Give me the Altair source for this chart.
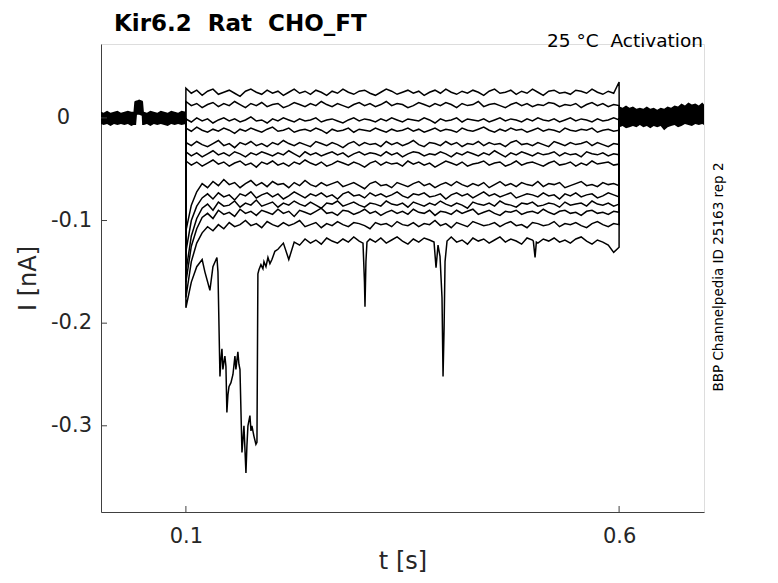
import altair as alt
import numpy as np
import pandas as pd

# ---------------- data (currents in pA, time in s) ----------------
STEP_START = 0.1
STEP_END = 0.6

T1 = [29,
      24,27,22,26,28,23,25,27,24,21,26,28,25,23,27,24,
      26,22,25,28,24,26,23,27,25,22,26,24,28,25,23,26,
      27,24,22,25,28,26,23,25,27,24,26,22,25,27,24,28,
      25,23,26,24,27,25,22,26,28,24,25,27,23,26,24,28,
      25,22,26,27,24,25,23,27,26,24,28,25,23,26,24,35]
T2 = [16,
      12,14,10,13,15,11,14,12,16,13,10,14,12,15,11,13,
      14,10,12,15,13,11,14,12,16,13,11,14,12,10,13,15,
      12,14,11,13,16,12,14,13,10,12,15,13,11,14,12,15,
      13,10,14,12,13,16,11,13,14,12,10,13,15,12,14,11,
      13,12,15,14,11,13,12,14,10,13,15,12,14,11,13,12]
T3 = [-1,
      -4,0,-3,-1,-5,-2,0,-3,-1,-4,-2,1,-3,-2,-5,-1,
      -3,0,-2,-4,-1,-3,-2,0,-4,-2,-1,-3,-5,-2,0,-3,
      -1,-2,-4,-1,-3,0,-2,-4,-1,-2,-3,0,-2,-5,-1,-3,
      -2,0,-4,-1,-2,-3,-1,-4,-2,0,-3,-1,-2,-4,-1,-3,
      0,-2,-3,-1,-4,-2,0,-3,-1,-2,-4,-1,-3,-2,0,-2]
T4 = [-10,
      -13,-9,-12,-14,-11,-13,-10,-12,-15,-11,-13,-10,-12,-14,-11,-9,
      -13,-12,-10,-14,-12,-11,-13,-10,-12,-15,-11,-13,-12,-10,-14,-11,
      -12,-13,-10,-12,-14,-11,-13,-12,-10,-13,-11,-14,-12,-10,-13,-11,
      -12,-14,-10,-12,-13,-11,-9,-12,-14,-11,-13,-10,-12,-11,-14,-12,
      -10,-13,-11,-12,-14,-10,-12,-13,-11,-12,-10,-14,-12,-11,-13,-12]
T5 = [-24,
      -27,-23,-26,-28,-25,-22,-27,-25,-29,-24,-26,-23,-27,-25,-28,-24,
      -26,-22,-25,-27,-24,-26,-28,-23,-25,-27,-24,-26,-29,-25,-23,-27,
      -24,-26,-25,-28,-23,-26,-24,-27,-25,-22,-26,-28,-24,-25,-27,-23,
      -26,-24,-28,-25,-26,-23,-27,-24,-26,-25,-28,-24,-22,-26,-25,-27,
      -24,-26,-28,-23,-25,-27,-24,-26,-25,-23,-27,-24,-26,-28,-25,-26]
T6 = [-33,
      -37,-34,-38,-35,-32,-36,-34,-37,-33,-35,-38,-34,-36,-33,-35,-37,
      -34,-36,-32,-35,-38,-33,-36,-34,-37,-35,-33,-36,-34,-38,-35,-33,
      -36,-34,-35,-37,-33,-36,-34,-38,-35,-33,-34,-37,-35,-36,-33,-35,
      -38,-34,-36,-33,-35,-37,-34,-36,-32,-35,-38,-34,-36,-33,-35,-37,
      -34,-36,-35,-33,-37,-34,-36,-35,-38,-33,-35,-36,-34,-37,-35,-36]
T7 = [-42,
      -46,-43,-47,-44,-41,-45,-43,-47,-44,-42,-46,-44,-48,-43,-45,-42,
      -46,-44,-47,-43,-45,-41,-44,-46,-43,-47,-45,-42,-44,-46,-43,-45,
      -48,-44,-42,-46,-43,-45,-44,-47,-42,-45,-43,-46,-44,-48,-45,-42,
      -44,-46,-43,-47,-45,-44,-42,-46,-44,-43,-47,-45,-42,-46,-44,-43,
      -45,-47,-44,-42,-46,-45,-43,-47,-44,-46,-42,-45,-44,-43,-46,-45]
T8 = [-110,
      -85,-72,-64,-68,-62,-66,-60,-65,-63,-68,-64,-61,-66,-63,-67,-62,
      -65,-64,-68,-63,-66,-61,-65,-67,-63,-66,-64,-62,-67,-65,-63,-66,
      -69,-64,-62,-66,-65,-68,-63,-65,-67,-64,-62,-66,-64,-68,-65,-63,
      -66,-62,-65,-67,-64,-66,-63,-68,-65,-62,-66,-64,-67,-63,-65,-66,
      -62,-67,-64,-65,-63,-68,-66,-64,-62,-66,-65,-67,-63,-65,-64,-66]
T9 = [-130,
      -100,-86,-78,-74,-79,-73,-77,-75,-80,-74,-76,-72,-78,-75,-73,-77,
      -74,-79,-76,-72,-75,-78,-74,-76,-73,-77,-75,-79,-74,-72,-76,-75,
      -78,-73,-76,-74,-77,-75,-72,-76,-78,-74,-75,-73,-77,-76,-74,-79,
      -75,-73,-76,-74,-78,-75,-72,-76,-74,-77,-75,-73,-78,-76,-74,-75,
      -77,-73,-76,-75,-79,-74,-76,-73,-77,-75,-74,-78,-76,-73,-75,-77]
T10 = [-150,
       -115,-98,-88,-84,-90,-82,-86,-85,-81,-87,-83,-85,-80,-86,-84,-82,
       -87,-83,-85,-81,-84,-86,-82,-85,-88,-83,-84,-81,-86,-84,-82,-85,
       -87,-83,-84,-86,-81,-84,-85,-83,-87,-82,-84,-86,-83,-85,-81,-84,
       -86,-83,-85,-88,-82,-84,-85,-83,-86,-81,-84,-85,-87,-83,-84,-82,
       -86,-85,-83,-84,-87,-82,-85,-84,-83,-86,-81,-84,-85,-83,-86,-84]
T11 = [-160,
       -125,-108,-97,-93,-98,-90,-94,-92,-96,-89,-93,-91,-95,-90,-92,-94,
       -89,-93,-91,-96,-90,-92,-94,-91,-88,-93,-92,-95,-90,-91,-94,-92,
       -89,-93,-91,-95,-92,-90,-93,-91,-94,-89,-92,-93,-90,-95,-91,-92,
       -94,-90,-93,-91,-89,-94,-92,-90,-93,-95,-91,-92,-90,-94,-92,-91,
       -93,-89,-92,-94,-91,-90,-93,-92,-95,-91,-90,-93,-92,-94,-91,-92]
T12 = [-175,
       -140,-122,-112,-106,-110,-104,-108,-102,-106,-104,-100,-105,-103,-107,-101,-104,
       -106,-102,-105,-103,-100,-106,-104,-102,-107,-103,-105,-101,-104,-106,-102,-103,
       -105,-108,-102,-104,-103,-106,-101,-104,-105,-102,-106,-103,-104,-100,-105,-103,
       -107,-102,-104,-106,-101,-103,-105,-104,-102,-106,-103,-101,-105,-104,-107,-102,
       -103,-105,-104,-101,-106,-103,-104,-102,-105,-107,-103,-101,-104,-106,-103,-104]
T13 = [-185,
       -160,-145,-138,-140,-150,-145,-140,-150,-145,-140,-150,-145,-140,-150,-145,-140,
       -128,-122,-138,-121,-124,-118,-122,-119,-123,-117,-120,-122,-118,-121,-116,-120,
       -124,-118,-121,-117,-122,-119,-116,-120,-123,-118,-121,-117,-119,-122,-118,-120,
       -116,-121,-119,-123,-117,-120,-118,-122,-119,-116,-121,-118,-120,-123,-117,-119,
       -122,-118,-120,-117,-121,-119,-122,-118,-116,-120,-123,-119,-121,-124,-131,-126]

TRACES = {"T1": T1, "T2": T2, "T3": T3, "T4": T4, "T5": T5, "T6": T6, "T7": T7,
          "T8": T8, "T9": T9, "T10": T10, "T11": T11, "T12": T12, "T13": T13}

# fast events (finely sampled) on the lowest trace
DIP1_T = [0.1219,0.1277,0.1312,0.1358,0.1370,0.1393,0.1404,0.1416,0.1427,0.1439,0.1450,
          0.1462,0.1473,0.1485,0.1497,0.1520,0.1543,0.1566,0.1577,0.1589,0.1600,0.1612,
          0.1624,0.1647,0.1670,0.1693,0.1704,0.1716,0.1739,0.1751,0.1762,0.1785,0.1808,
          0.1820,0.1831,0.1843,0.1866,0.1889,0.1901,0.1924,0.1947,0.1970,0.1993,0.2027]
DIP1_V = [-150,-168,-145,-136,-150,-252,-236,-225,-245,-238,-232,
          -242,-287,-270,-262,-258,-250,-232,-245,-236,-228,-240,
          -245,-326,-300,-346,-320,-300,-290,-305,-300,-310,-318,
          -316,-152,-148,-143,-147,-140,-145,-136,-142,-138,-130]
SPIKE2_T = [0.3044,0.3061,0.3067,0.3078,0.3090]
SPIKE2_V = [-122,-160,-184,-140,-121]
SPIKE3_T = [0.3864,0.3887,0.3910,0.3933,0.3956,0.3968,0.3980,0.3991,0.4014]
SPIKE3_V = [-121,-146,-124,-135,-175,-252,-205,-140,-120]
SPIKE4_T = [0.5010,0.5030,0.5045]
SPIKE4_V = [-120,-136,-121]
EVENTS = [("T13", DIP1_T, DIP1_V), ("T13", SPIKE2_T, SPIKE2_V),
          ("T13", SPIKE3_T, SPIKE3_V), ("T13", SPIKE4_T, SPIKE4_V)]

# baseline noise envelopes before / after the step
PRE_T = [0.002,0.005,0.009,0.013,0.017,0.021,0.025,0.029,0.033,0.037,0.0395,0.0405,
         0.0425,0.0435,0.046,0.049,0.0495,0.0505,0.0515,0.055,0.059,0.063,0.067,0.071,
         0.075,0.079,0.083,0.087,0.091,0.095,0.0999]
PRE_HI = [6,5,7,5,6,7,5,6,7,6,6,16,17,17,18,17,17,16,6,5,7,6,5,7,6,5,7,6,5,7,6]
PRE_LO = [-6,-7,-6,-8,-6,-7,-6,-7,-6,-8,-7,-7,-7,3,3,2,-7,-7,-7,-6,-8,-6,-7,-6,-7,-8,-6,-7,-6,-7,-6]
POST_T = [0.6005,0.604,0.608,0.612,0.616,0.620,0.624,0.628,0.632,0.636,0.640,0.644,0.648,
          0.652,0.656,0.660,0.664,0.668,0.672,0.676,0.680,0.684,0.688,0.692,0.696,0.698]
POST_HI = [11,10,12,10,11,9,10,9,11,9,10,8,10,9,11,10,12,11,14,12,15,13,14,12,15,13]
POST_LO = [-9,-8,-10,-9,-8,-9,-7,-9,-8,-10,-8,-9,-8,-12,-9,-8,-7,-9,-8,-6,-7,-8,-6,-7,-6,-7]

X_TICKS = [0.1, 0.6]
Y_TICKS = [0.0, -0.1, -0.2, -0.3]
Y_LABELS = ["0", "-0.1", "-0.2", "-0.3"]

# ---------------- build tables ----------------
rows = []
for name, vals in TRACES.items():
    ts = np.linspace(STEP_START, STEP_END, len(vals))
    pts = list(zip(ts, vals))
    for tr, et, ev in EVENTS:
        if tr == name:
            lo, hi = min(et), max(et)
            pts = [p for p in pts if not (lo <= p[0] <= hi)] + list(zip(et, ev))
    pts = [(STEP_START - 0.0001, 0)] + pts + [(STEP_END + 0.0001, 0)]
    for t, v in pts:
        rows.append({"trace": name, "t": float(t), "i": v / 1000.0})
lines_df = pd.DataFrame(rows)

band_rows = []
for t, h, l in zip(PRE_T, PRE_HI, PRE_LO):
    band_rows.append({"band": "pre", "t": t, "hi": h / 1000.0, "lo": l / 1000.0})
for t, h, l in zip(POST_T, POST_HI, POST_LO):
    band_rows.append({"band": "post", "t": t, "hi": h / 1000.0, "lo": l / 1000.0})
band_df = pd.DataFrame(band_rows)

ylab_df = pd.DataFrame({"i": Y_TICKS, "lab": Y_LABELS})

FONT = "DejaVu Sans"
TXT = "#262626"
AX = "#404040"

xscale = alt.Scale(domain=[0.002, 0.698], nice=False, zero=False)
yscale = alt.Scale(domain=[-0.384, 0.072], nice=False, zero=False)

xaxis = alt.Axis(values=X_TICKS, format=".1f", tickSize=0, labelPadding=30,
                 labelBaseline="alphabetic", labelFontSize=21, labelFont=FONT,
                 labelColor=TXT, domainColor=AX, domainWidth=1, grid=False,
                 title="t [s]", titleFont=FONT, titleFontSize=24,
                 titleFontWeight="normal", titleColor=TXT, titleX=301.5, titleY=56,
                 titleBaseline="alphabetic", titleAlign="center")
yaxis = alt.Axis(values=Y_TICKS, labels=False, ticks=False,
                 domainColor=AX, domainWidth=1, grid=False,
                 title="I [nA]", titleFont=FONT, titleFontSize=24,
                 titleFontWeight="normal", titleColor=TXT, titleAngle=270,
                 titleX=-66, titleY=234, titleBaseline="alphabetic", titleAlign="center")

X = lambda f: alt.X(f, scale=xscale, axis=xaxis)
Y = lambda f: alt.Y(f, scale=yscale, axis=yaxis)

bands = alt.Chart(band_df).mark_area(color="black", opacity=1).encode(
    x=X("t:Q"), y=Y("hi:Q"), y2="lo:Q", detail="band:N")

lines = alt.Chart(lines_df).mark_line(color="black", strokeWidth=1.5).encode(
    x=X("t:Q"), y=Y("i:Q"), detail="trace:N")

xt = alt.Chart(pd.DataFrame({"t": X_TICKS})).mark_rule(color=AX, strokeWidth=1).encode(
    x=X("t:Q"), y=alt.value(468), y2=alt.value(462))
yt = alt.Chart(pd.DataFrame({"i": Y_TICKS})).mark_rule(color=AX, strokeWidth=1).encode(
    y=Y("i:Q"), x=alt.value(0), x2=alt.value(6))

# y tick labels (the "0" label sits further left in the original)
ylab_zero = alt.Chart(ylab_df[ylab_df["i"] == 0]).mark_text(
    font=FONT, fontSize=21, align="right", baseline="middle", color=TXT).encode(
    y=Y("i:Q"), text="lab:N", x=alt.value(-31))
ylab_rest = alt.Chart(ylab_df[ylab_df["i"] != 0]).mark_text(
    font=FONT, fontSize=21, align="right", baseline="middle", color=TXT).encode(
    y=Y("i:Q"), text="lab:N", x=alt.value(-9))

title = alt.Chart(pd.DataFrame({"s": ["Kir6.2\u00a0 Rat\u00a0 CHO_FT"]})).mark_text(
    font=FONT, fontSize=23, fontWeight="bold", align="left", baseline="alphabetic",
    color="black").encode(text="s:N", x=alt.value(13), y=alt.value(-13))
cond = alt.Chart(pd.DataFrame({"s": ["25 °C\u00a0 Activation"]})).mark_text(
    font=FONT, fontSize=18.5, align="right", baseline="alphabetic",
    color="black").encode(text="s:N", x=alt.value(602), y=alt.value(3))
side = alt.Chart(pd.DataFrame({"s": ["BBP Channelpedia ID 25163 rep 2"]})).mark_text(
    font=FONT, fontSize=13.5, align="center", baseline="alphabetic", angle=270,
    color="black").encode(text="s:N", x=alt.value(622), y=alt.value(233))

chart = alt.layer(bands, lines, xt, yt, ylab_zero, ylab_rest, title, cond, side).properties(
    width=603, height=468,
    padding={"left": 93, "top": 36, "right": 66, "bottom": 63},
    autosize=alt.AutoSizeParams(type="none"),
).configure_view(stroke=None).configure(background="white")

chart.save("out.html", embed_options={"renderer": "svg", "actions": False})
